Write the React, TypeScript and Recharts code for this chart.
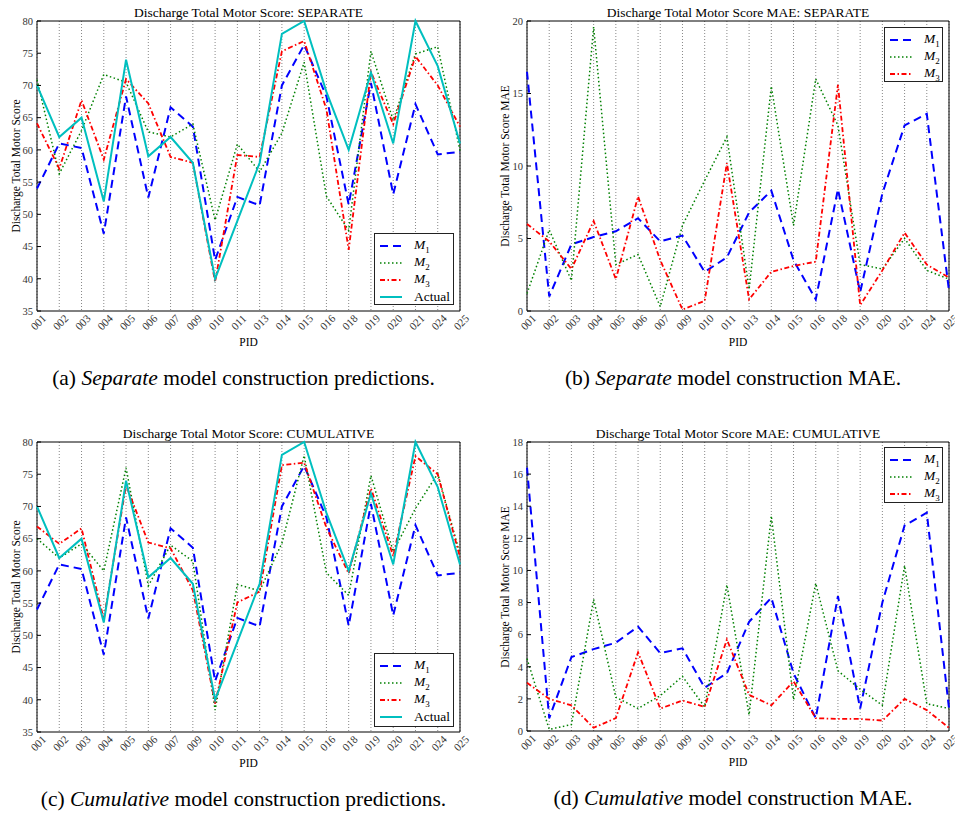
import React from 'react';
import { LineChart, Line, XAxis, YAxis, CartesianGrid, ReferenceArea } from 'recharts';

const FONT = '"Liberation Serif", "Times New Roman", serif';

const pids = ['001', '002', '003', '004', '005', '006', '007', '009', '010', '011', '013', '014', '015', '016', '018', '019', '020', '021', '024', '025'];

// predictions
const actual = [70, 62, 65, 52, 74, 59, 62, 58, 40, 49, 58, 78, 80, 69, 60, 72, 61, 80, 73, 61];
const predM1 = [54, 61, 60.3, 47, 68.3, 52.6, 66.6, 63.6, 42.9, 52.7, 51.4, 70, 76.3, 68.3, 51.5, 70.4, 53.1, 67.1, 59.3, 59.7];
const sepM2 = [70.9, 56.3, 63, 71.7, 70.5, 62.8, 62, 64, 49.1, 60.9, 56.6, 62.6, 73.6, 52.8, 47.5, 75.3, 64.6, 74.9, 76, 59.9];
const sepM3 = [64.1, 57.1, 67.7, 58.5, 71, 67.2, 58.9, 58, 39.5, 59.2, 58.9, 75.3, 76.9, 66.3, 44.5, 72.1, 64, 74.5, 70, 63.6];
const cumM2 = [65, 62, 64.2, 60, 76, 57.7, 64, 61.5, 38.4, 57.9, 56.9, 64.3, 77.9, 59.7, 56.2, 74.8, 63, 69.7, 75.1, 62.6];
const cumM3 = [66.9, 64.2, 66.6, 52.5, 73.3, 64.4, 63.5, 57, 39.4, 55.1, 56.8, 76.4, 76.8, 66.7, 59.6, 72.8, 62.3, 77.8, 75, 62.1];

// MAE
const sepMaeM1 = [16.5, 1, 4.6, 5.1, 5.5, 6.4, 4.8, 5.2, 2.7, 3.7, 6.8, 8.3, 3.5, 0.8, 8.4, 1.3, 8.1, 12.8, 13.6, 1.4];
const sepMaeM2 = [1.2, 5.6, 2.1, 19.6, 3.2, 3.9, 0.3, 5.9, 9, 12, 1.5, 15.5, 5.9, 16, 12.8, 3.2, 2.9, 5, 2.8, 2.2];
const sepMaeM3 = [6, 4.8, 2.9, 6.2, 2.2, 7.9, 3.5, 0.1, 0.7, 10.2, 0.8, 2.7, 3.1, 3.4, 15.6, 0.4, 2.8, 5.4, 3.2, 2.3];
const cumMaeM1 = [16.4, 0.8, 4.6, 5.1, 5.5, 6.5, 4.85, 5.15, 2.7, 3.6, 6.8, 8.3, 3.6, 0.8, 8.4, 1.4, 8, 12.8, 13.6, 1.4];
const cumMaeM2 = [4.5, 0.1, 0.4, 8.2, 2.1, 1.4, 2.2, 3.4, 1.5, 9.1, 1, 13.4, 1.95, 9.2, 3.75, 2.6, 1.6, 10.3, 1.7, 1.4];
const cumMaeM3 = [3, 2, 1.6, 0.2, 0.8, 4.9, 1.4, 1.9, 1.5, 5.7, 2.25, 1.6, 3.1, 0.8, 0.75, 0.75, 0.65, 2, 1.3, 0.2];

const scoreTicks = [35, 40, 45, 50, 55, 60, 65, 70, 75, 80];
const sepMaeTicks = [0, 5, 10, 15, 20];
const cumMaeTicks = [0, 2, 4, 6, 8, 10, 12, 14, 16, 18];

type Style = { key: string; label: string; sub?: string; color: string; dash?: string; width: number };

const STYLES: Style[] = [
  { key: 'm1', label: 'M', sub: '1', color: '#0000ff', dash: '8 5', width: 2 },
  { key: 'm2', label: 'M', sub: '2', color: '#008000', dash: '1.5 2.5', width: 1.5 },
  { key: 'm3', label: 'M', sub: '3', color: '#ff0000', dash: '5 2.5 1.5 2.5', width: 1.8 },
  { key: 'actual', label: 'Actual', color: '#00bfbf', width: 2 },
];

function rows(cols: Record<string, number[]>) {
  return pids.map((pid, i) => {
    const r: Record<string, any> = { pid };
    Object.entries(cols).forEach(([k, v]) => (r[k] = v[i]));
    return r;
  });
}

const PidTick = (props: any) => {
  const { x, y, payload } = props;
  const ax = x + 4;
  const ay = y + 14;
  return (
    <text x={ax} y={ay} transform={`rotate(-45, ${ax}, ${ay})`} textAnchor="middle" fontSize={11} fill="#333" fontFamily={FONT}>
      {payload.value}
    </text>
  );
};

type PanelProps = {
  left: number;
  top: number;
  width: number;
  yw: number;
  mr: number;
  mt: number;
  xh: number;
  data: any[];
  keys: string[];
  domain: [number, number];
  ticks: number[];
  title: string;
  yLabel: string;
  letter: string;
  italic: string;
  rest: string;
  legend: { left: number; top: number; width: number; height: number };
};

function Panel(p: PanelProps) {
  const height = 360;
  const plotLeft = p.left + p.yw;
  const plotRight = p.left + p.width - p.mr;
  const plotTop = p.top + p.mt;
  const plotBottom = p.top + height - p.xh;
  const cx = (plotLeft + plotRight) / 2;
  const series = STYLES.filter((s) => p.keys.includes(s.key));
  return (
    <>
      <div style={{ position: 'absolute', left: p.left, top: p.top }}>
        <LineChart width={p.width} height={height} data={p.data} margin={{ top: p.mt, right: p.mr, left: 0, bottom: 0 }}>
          <CartesianGrid horizontal={false} stroke="#888" strokeDasharray="1 2" />
          <XAxis dataKey="pid" height={p.xh} interval={0} tick={<PidTick />} tickLine={false} axisLine={false} tickSize={0} tickMargin={0} />
          <YAxis
            domain={p.domain}
            ticks={p.ticks}
            interval={0}
            width={p.yw}
            tickSize={-4}
            tickMargin={8}
            axisLine={false}
            tickLine={{ stroke: '#000' }}
            tick={{ fontSize: 10.5, fill: '#333', fontFamily: FONT }}
          />
          <YAxis
            yAxisId="r"
            orientation="right"
            domain={p.domain}
            ticks={p.ticks}
            interval={0}
            width={0}
            tick={false}
            tickSize={-4}
            axisLine={false}
            tickLine={{ stroke: '#000' }}
          />
          <ReferenceArea x1="001" x2="025" y1={p.domain[0]} y2={p.domain[1]} fill="none" stroke="#000" strokeWidth={1} ifOverflow="visible" />
          {series.map((s) => (
            <Line
              key={s.key}
              type="linear"
              dataKey={s.key}
              stroke={s.color}
              strokeWidth={s.width}
              strokeDasharray={s.dash}
              dot={false}
              isAnimationActive={false}
            />
          ))}
        </LineChart>
      </div>
      <div style={{ position: 'absolute', left: cx, top: plotTop - 8, transform: 'translate(-50%, -50%)', whiteSpace: 'nowrap', fontSize: 13.5, fontFamily: FONT }}>
        {p.title}
      </div>
      <div
        style={{
          position: 'absolute',
          left: p.left + (p.yw > 40 ? 25 : 16),
          top: (plotTop + plotBottom) / 2,
          transform: 'translate(-50%, -50%) rotate(-90deg)',
          whiteSpace: 'nowrap',
          fontSize: 11.5,
          fontFamily: FONT,
        }}
      >
        {p.yLabel}
      </div>
      <div style={{ position: 'absolute', left: cx, top: plotBottom + 31, transform: 'translate(-50%, -50%)', fontSize: 11.5, fontFamily: FONT }}>PID</div>
      <div style={{ position: 'absolute', left: cx - 5, top: plotBottom + 67, transform: 'translate(-50%, -50%)', whiteSpace: 'nowrap', fontSize: 21.5, fontFamily: FONT }}>
        {p.letter} <i>{p.italic}</i> {p.rest}
      </div>
      <div
        style={{
          position: 'absolute',
          left: p.legend.left,
          top: p.legend.top,
          width: p.legend.width,
          height: p.legend.height,
          boxSizing: 'border-box',
          border: '1.5px solid #222',
          background: '#fff',
          fontFamily: FONT,
          fontSize: 13.5,
          padding: '3px 0 0 5px',
        }}
      >
        {series.map((s) => (
          <div key={s.key} style={{ display: 'flex', alignItems: 'center', height: 17 }}>
            <svg width={22} height={8} style={{ marginRight: 12 }}>
              <line x1={0} y1={4} x2={22} y2={4} stroke={s.color} strokeWidth={s.width} strokeDasharray={s.dash} />
            </svg>
            <span>
              {s.sub ? (
                <>
                  <i>{s.label}</i>
                  <sub style={{ fontSize: 9 }}>{s.sub}</sub>
                </>
              ) : (
                s.label
              )}
            </span>
          </div>
        ))}
      </div>
    </>
  );
}

export default function App() {
  const sepPred = rows({ m1: predM1, m2: sepM2, m3: sepM3, actual });
  const cumPred = rows({ m1: predM1, m2: cumM2, m3: cumM3, actual });
  const sepMae = rows({ m1: sepMaeM1, m2: sepMaeM2, m3: sepMaeM3 });
  const cumMae = rows({ m1: cumMaeM1, m2: cumMaeM2, m3: cumMaeM3 });
  return (
    <div style={{ position: 'absolute', left: 0, top: 0, width: 955, height: 814, background: '#fff', fontFamily: FONT }}>
      <Panel
        left={0} top={0} width={480} yw={37} mr={20} mt={21} xh={49}
        data={sepPred} keys={['m1', 'm2', 'm3', 'actual']} domain={[35, 80]} ticks={scoreTicks}
        title="Discharge Total Motor Score: SEPARATE" yLabel="Discharge Total Motor Score"
        letter="(a)" italic="Separate" rest="model construction predictions."
        legend={{ left: 374, top: 233, width: 80, height: 72 }}
      />
      <Panel
        left={480} top={0} width={475} yw={47} mr={6} mt={21} xh={49}
        data={sepMae} keys={['m1', 'm2', 'm3']} domain={[0, 20]} ticks={sepMaeTicks}
        title="Discharge Total Motor Score MAE: SEPARATE" yLabel="Discharge Total Motor Score MAE"
        letter="(b)" italic="Separate" rest="model construction MAE."
        legend={{ left: 884, top: 27, width: 59, height: 55 }}
      />
      <Panel
        left={0} top={420} width={480} yw={37} mr={20} mt={22} xh={48}
        data={cumPred} keys={['m1', 'm2', 'm3', 'actual']} domain={[35, 80]} ticks={scoreTicks}
        title="Discharge Total Motor Score: CUMULATIVE" yLabel="Discharge Total Motor Score"
        letter="(c)" italic="Cumulative" rest="model construction predictions."
        legend={{ left: 374, top: 653, width: 80, height: 74 }}
      />
      <Panel
        left={480} top={420} width={475} yw={47} mr={6} mt={22} xh={49}
        data={cumMae} keys={['m1', 'm2', 'm3']} domain={[0, 18]} ticks={cumMaeTicks}
        title="Discharge Total Motor Score MAE: CUMULATIVE" yLabel="Discharge Total Motor Score MAE"
        letter="(d)" italic="Cumulative" rest="model construction MAE."
        legend={{ left: 884, top: 447, width: 59, height: 56 }}
      />
    </div>
  );
}
